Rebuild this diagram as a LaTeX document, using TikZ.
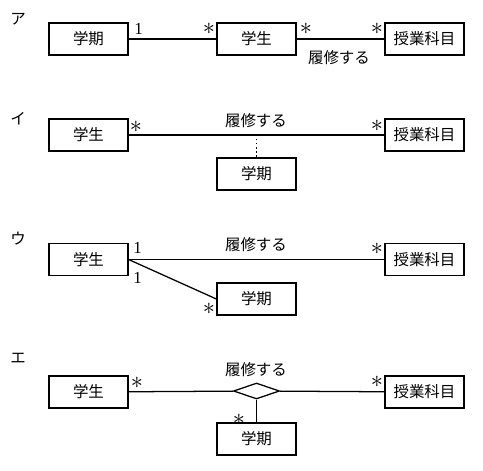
\documentclass[tikz,border=0pt]{standalone}
\usepackage{fontspec}
\setmainfont{Liberation Serif}
\newfontfamily\jp{Noto Sans CJK JP}
\usetikzlibrary{shapes.geometric}

\tikzset{
  cls/.style={shape=rectangle,draw=black,line width=0.9pt,minimum width=1.975cm,
    minimum height=0.8cm,inner sep=0pt,font=\jp\fontsize{11}{13}\selectfont},
  lbl/.style={inner sep=0pt,font=\jp\fontsize{11}{13}\selectfont},
  mult/.style={inner sep=0pt,font=\fontsize{12}{14}\selectfont},
  many/.style={inner sep=0pt,font=\fontsize{19}{21}\selectfont},
  assoc/.style={line width=0.9pt},
}

\begin{document}
\begin{tikzpicture}[x=0.025cm,y=-0.025cm]
            \useasboundingbox (0,0) rectangle (483,470);

            % ア
            \node (rowA)[lbl] at (18, 19) {ア};
            \node (termA)[cls] at (88.5, 39) {学期};
            \node (studentA)[cls] at (256.5, 39) {学生};
            \node (courseA)[cls] at (424.5, 39) {授業科目};
            \node (oneA)[mult] at (138.5, 29) {1};
            \node (manyA1)[many] at (209, 29) {$\ast$};
            \node (manyA2)[many] at (306, 29) {$\ast$};
            \node (manyA3)[many] at (377, 29) {$\ast$};
            \node (takeA)[lbl] at (339, 57.5) {履修する};
            \path [assoc] (termA) edge (studentA);
            \path [assoc] (studentA) edge (courseA);

            % イ
            \node (rowB)[lbl] at (18, 119) {イ};
            \node (studentB)[cls] at (88.5, 135) {学生};
            \node (courseB)[cls] at (424.5, 135) {授業科目};
            \node (termB)[cls] at (256.5, 174) {学期};
            \node (manyB1)[many] at (136, 127) {$\ast$};
            \node (manyB2)[many] at (377, 126) {$\ast$};
            \node (takeB)[lbl] at (256, 121) {履修する};
            \coordinate (linkB) at (termB.north |- studentB.east);
            \path [assoc] (studentB) edge (courseB);
            \draw [dotted,line width=0.9pt] (linkB) -- (termB);

            % ウ
            \node (rowC)[lbl] at (18, 239) {ウ};
            \node (studentC)[cls] at (88.5, 259.5) {学生};
            \node (courseC)[cls] at (424.5, 259.5) {授業科目};
            \node (termC)[cls] at (256.5, 299) {学期};
            \node (oneC1)[mult] at (137.5, 247.5) {1};
            \node (oneC2)[mult] at (137.5, 278) {1};
            \node (manyC1)[many] at (209, 309) {$\ast$};
            \node (manyC2)[many] at (377, 249) {$\ast$};
            \node (takeC)[lbl] at (256, 245) {履修する};
            \path [assoc] (studentC.east) edge (courseC.west);
            \path [assoc] (studentC.east) edge (termC.west);

            % エ
            \node (rowD)[lbl] at (18, 358) {エ};
            \node (studentD)[cls] at (88.5, 392) {学生};
            \node (courseD)[cls] at (424.5, 392) {授業科目};
            \node (termD)[cls] at (256.5, 439) {学期};
            \node (linkD)[shape=diamond,draw=black,line width=0.9pt,inner sep=0pt,
                minimum width=1.15cm,minimum height=0.4cm] at (256.5, 391) {};
            \node (manyD1)[many] at (137, 383) {$\ast$};
            \node (manyD2)[many] at (377, 382) {$\ast$};
            \node (manyD3)[many] at (239, 420) {$\ast$};
            \node (takeD)[lbl] at (256, 370) {履修する};
            \path [assoc] (studentD) edge (linkD);
            \path [assoc] (linkD) edge (courseD);
            \path [assoc] (linkD.south) edge (termD.north);
\end{tikzpicture}
\end{document}
